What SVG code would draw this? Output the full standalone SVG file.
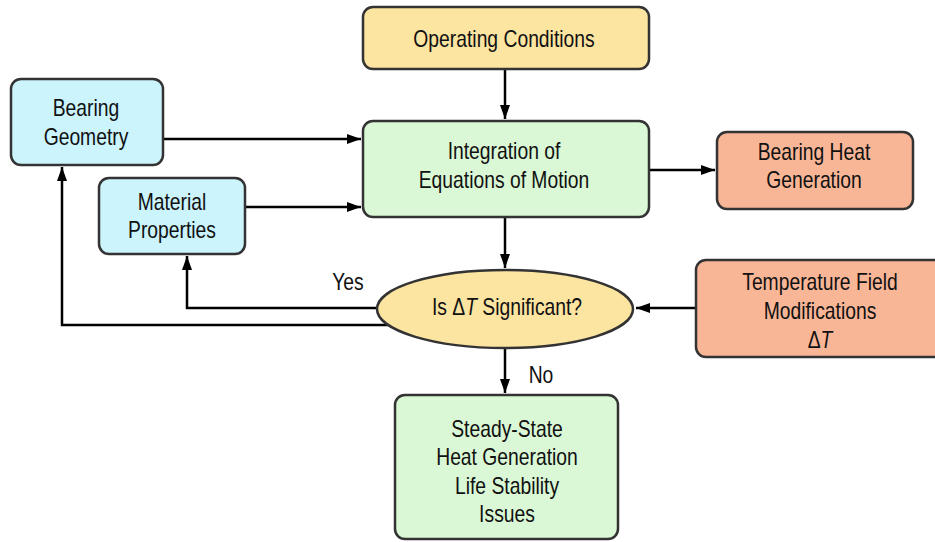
<svg xmlns="http://www.w3.org/2000/svg" width="935" height="542" viewBox="0 0 935 542">
<defs>
<marker id="ah" markerWidth="14" markerHeight="10" refX="14" refY="5" orient="auto" markerUnits="userSpaceOnUse">
<path d="M0,0 L14,5 L0,10 Z" fill="#000"/>
</marker>
<style>
.box{stroke:#333;stroke-width:2.5}
.yel{fill:#fce4a1}
.grn{fill:#daf8d5}
.blu{fill:#ccf4fd}
.org{fill:#f8b697}
.t{font-family:"Liberation Sans",Arial,sans-serif;font-size:23px;fill:#111;text-anchor:middle}
.c{fill:none;stroke:#000;stroke-width:2.5}
</style>
</defs>
<rect width="935" height="542" fill="#fff"/>
<g id="connectors">
<path class="c" d="M505,69 V119" marker-end="url(#ah)"/>
<path class="c" d="M163,139 H361" marker-end="url(#ah)"/>
<path class="c" d="M245,207 H361" marker-end="url(#ah)"/>
<path class="c" d="M649,170 H715" marker-end="url(#ah)"/>
<path class="c" d="M505,217 V268" marker-end="url(#ah)"/>
<path class="c" d="M696,308 H636" marker-end="url(#ah)"/>
<path class="c" d="M505,348 V393" marker-end="url(#ah)"/>
<path class="c" d="M378,308 H187 V256" marker-end="url(#ah)"/>
<path class="c" d="M388,325 H62 V167" marker-end="url(#ah)"/>
<text class="t" transform="translate(348,290) scale(0.84,1)">Yes</text>
<text class="t" transform="translate(541,383) scale(0.84,1)">No</text>
</g>
<g id="operating-conditions">
<rect class="box yel" x="363" y="7" width="286" height="62" rx="10"/>
<text class="t" transform="translate(504,46.5) scale(0.84,1)">Operating Conditions</text>
</g>
<g id="integration">
<rect class="box grn" x="363" y="121" width="286" height="96" rx="10"/>
<text class="t" transform="translate(504,159) scale(0.84,1)">Integration of</text>
<text class="t" transform="translate(504,188) scale(0.84,1)">Equations of Motion</text>
</g>
<g id="bearing-geometry">
<rect class="box blu" x="11" y="79" width="152" height="86" rx="10"/>
<text class="t" transform="translate(86,115.5) scale(0.84,1)">Bearing</text>
<text class="t" transform="translate(86,145) scale(0.84,1)">Geometry</text>
</g>
<g id="material-properties">
<rect class="box blu" x="99" y="178" width="146" height="76" rx="10"/>
<text class="t" transform="translate(172,210) scale(0.84,1)">Material</text>
<text class="t" transform="translate(172,238) scale(0.84,1)">Properties</text>
</g>
<g id="bearing-heat-generation">
<rect class="box org" x="717" y="132" width="196" height="77" rx="10"/>
<text class="t" transform="translate(814,160) scale(0.84,1)">Bearing Heat</text>
<text class="t" transform="translate(814,188) scale(0.84,1)">Generation</text>
</g>
<g id="is-delta-t-significant">
<ellipse class="box yel" cx="505" cy="309" rx="128" ry="39"/>
<text class="t" transform="translate(507,315) scale(0.84,1)">Is Δ<tspan font-style="italic">T</tspan> Significant?</text>
</g>
<g id="temperature-field">
<rect class="box org" x="696" y="260" width="250" height="97" rx="10"/>
<text class="t" transform="translate(820,290) scale(0.84,1)">Temperature Field</text>
<text class="t" transform="translate(820,319) scale(0.84,1)">Modifications</text>
<text class="t" transform="translate(820,348) scale(0.84,1)">Δ<tspan font-style="italic">T</tspan></text>
</g>
<g id="steady-state">
<rect class="box grn" x="395" y="395" width="223" height="144" rx="10"/>
<text class="t" transform="translate(507,436.5) scale(0.84,1)">Steady-State</text>
<text class="t" transform="translate(507,465) scale(0.84,1)">Heat Generation</text>
<text class="t" transform="translate(507,493.5) scale(0.84,1)">Life Stability</text>
<text class="t" transform="translate(507,522) scale(0.84,1)">Issues</text>
</g>
</svg>
